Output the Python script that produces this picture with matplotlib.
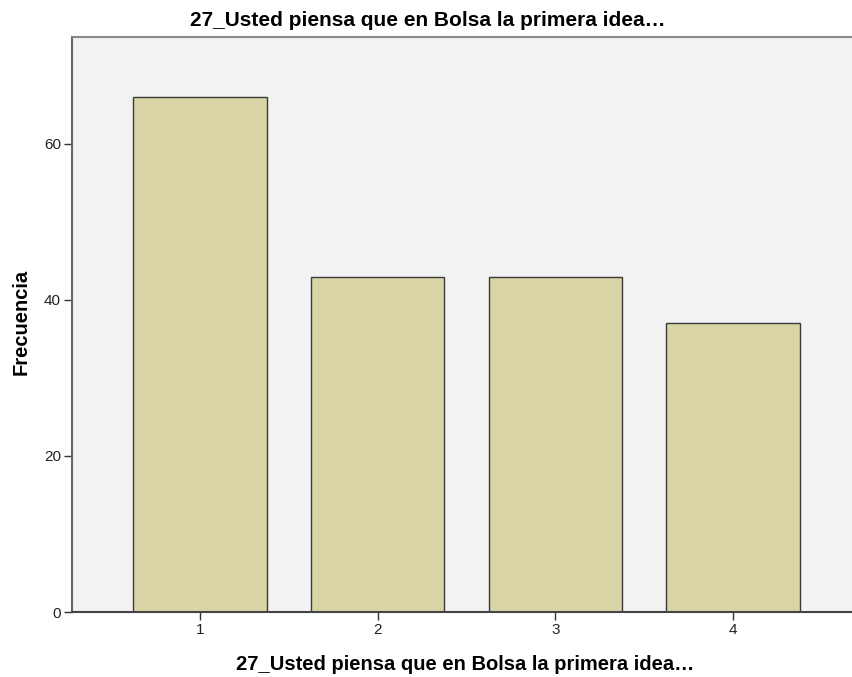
import numpy as np
import matplotlib as mpl
import matplotlib.pyplot as plt

mpl.rcParams['font.family'] = ['Liberation Sans', 'DejaVu Sans']

categories = ['1', '2', '3', '4']
frecuencia = [66, 43, 43, 37]
titulo = '27_Usted piensa que en Bolsa la primera idea\u2026'

W, H = 852, 677
fig = plt.figure(figsize=(W / 100, H / 100), dpi=100)
ax = fig.add_axes([72 / W, (H - 612) / H, (W - 72) / W, (612 - 37) / H])
ax.set_facecolor('#f2f2f2')

x = np.arange(1, len(categories) + 1)
ax.bar(x, frecuencia, width=0.75, color='#d9d5a7', edgecolor='#3a3a3a', linewidth=1.0, zorder=2)

ax.set_xlim(0.28, 4.67)
ax.set_ylim(0, 73.7)
ax.set_xticks(x)
ax.set_xticklabels(categories)
ax.set_yticks([0, 20, 40, 60])
ax.tick_params(axis='both', labelsize=11, length=6, width=1, color='#333333', labelcolor='#222222', pad=2)

ax.spines['right'].set_visible(False)
ax.spines['top'].set_color('#888888')
ax.spines['top'].set_linewidth(1.5)
ax.spines['left'].set_color('#666666')
ax.spines['left'].set_linewidth(1.5)
ax.spines['bottom'].set_color('#444444')
ax.spines['bottom'].set_linewidth(1.5)

# titles and axis labels placed in figure pixels like the SPSS output
fig.text(428 / W, 1 - 20 / H, titulo, ha='center', va='center', fontsize=15, fontweight='bold')
fig.text(465 / W, 1 - 665 / H, titulo, ha='center', va='center', fontsize=14.5, fontweight='bold')
fig.text(21 / W, 1 - 322 / H, 'Frecuencia', ha='center', va='center', rotation=90,
         fontsize=14.5, fontweight='bold')

fig.savefig('out.png', dpi=100)
